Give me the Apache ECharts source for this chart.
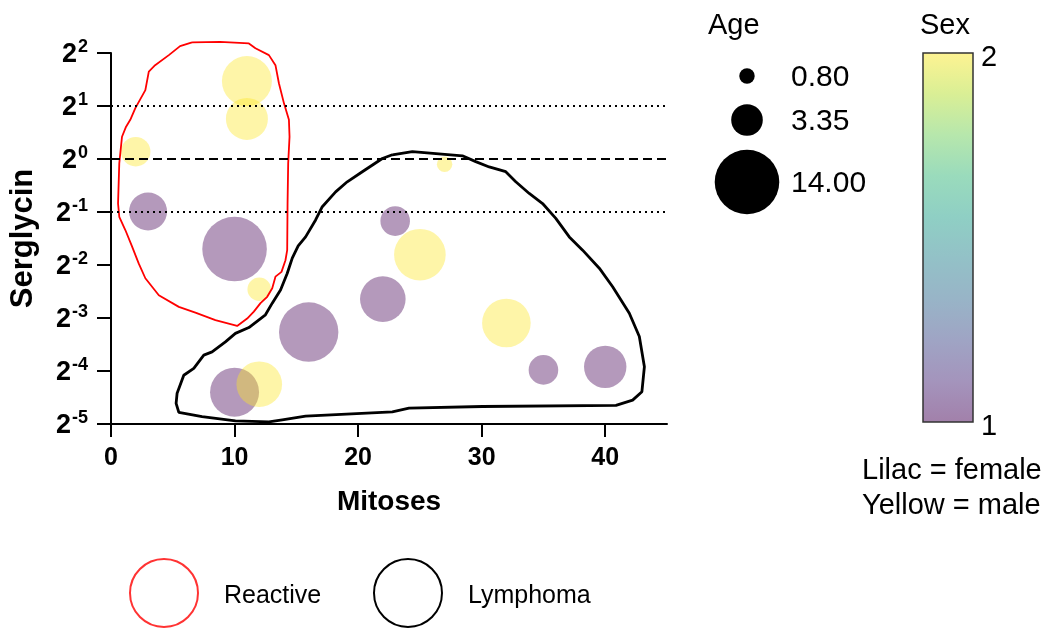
<!DOCTYPE html>
<html>
<head>
<meta charset="UTF-8">
<title>Serglycin vs Mitoses</title>
<script src="https://cdn.jsdelivr.net/npm/echarts@6/dist/echarts.min.js"></script>
<style>
  html, body { margin: 0; padding: 0; background: #fff; }
  #main { width: 1053px; height: 628px; }
</style>
</head>
<body>
<div id="main"></div>
<script>
// cases
var mitoses   = [11, 11, 2, 3, 10, 12, 10, 12, 27, 23, 25, 22, 16, 32, 35, 40];
var serglycin = [2.77, 1.69, 1.10, 0.503, 0.308, 0.182, 0.0474, 0.0526, 0.933, 0.444, 0.286, 0.160, 0.104, 0.117, 0.0634, 0.0660];
var age       = [8.39, 5.92, 2.90, 4.85, 14.0, 1.87, 8.06, 6.98, 0.80, 2.94, 8.94, 6.98, 11.84, 7.93, 2.94, 6.03];
var sex       = [2, 2, 2, 1, 1, 2, 1, 2, 2, 1, 2, 1, 1, 2, 1, 1];   // 1 = female, 2 = male

// hand drawn group outlines, [mitoses, log2(serglycin)]
var reactiveOutline = [[6.56,2.20],[8.83,2.21],[11.16,2.18],[11.69,2.09],[12.78,1.96],[13.31,1.77],[13.59,1.43],
  [14.0,1.05],[14.40,0.74],[14.45,0.42],[14.34,-0.08],[14.29,-0.84],[14.26,-1.72],[14.12,-1.91],[13.80,-2.13],
  [13.31,-2.22],[13.05,-2.44],[12.64,-2.60],[12.10,-2.72],[11.56,-2.88],[11.02,-3.01],[10.21,-3.15],[8.45,-3.04],
  [6.83,-2.90],[5.49,-2.79],[3.87,-2.57],[2.78,-2.25],[2.24,-1.97],[1.70,-1.65],[1.16,-1.34],[0.67,-1.09],
  [0.57,-0.84],[0.67,-0.08],[0.89,0.42],[1.22,0.61],[1.56,0.74],[1.97,0.96],[2.78,1.30],[3.06,1.65],[3.57,1.77],
  [4.68,1.96],[5.59,2.13]];
var lymphomaOutline = [[22.77,0.08],[24.39,0.14],[28.44,0.06],[29.52,-0.05],[30.61,-0.15],[31.95,-0.24],[32.76,-0.43],
  [33.85,-0.65],[34.93,-0.84],[36.0,-1.12],[37.09,-1.47],[38.17,-1.72],[39.52,-2.06],[40.6,-2.41],[41.95,-2.91],
  [42.76,-3.35],[43.17,-3.92],[42.97,-4.39],[42.22,-4.55],[40.87,-4.65],[30.06,-4.67],[24.12,-4.70],[22.77,-4.77],
  [15.75,-4.85],[13.86,-4.92],[12.78,-4.96],[10.07,-4.94],[7.37,-4.86],[5.49,-4.78],[5.27,-4.61],[5.35,-4.42],
  [5.89,-4.08],[6.70,-3.95],[7.51,-3.70],[8.18,-3.64],[9.26,-3.45],[10.07,-3.29],[11.16,-3.18],[12.50,-2.94],
  [13.05,-2.72],[13.72,-2.47],[14.26,-2.16],[14.67,-1.87],[15.15,-1.64],[15.75,-1.47],[16.56,-1.15],[17.10,-0.90],
  [18.18,-0.62],[19.12,-0.43],[20.34,-0.24],[21.96,0.01]];

var yTicks = [-5, -4, -3, -2, -1, 0, 1, 2];   // powers of two
var xTicks = [0, 10, 20, 30, 40];
var ageLegend = [0.80, 3.35, 14.00];

// viridis stops
var viridis = [[68,1,84],[72,40,120],[62,73,137],[49,104,142],[38,130,142],
  [31,158,137],[53,183,121],[110,206,88],[181,222,43],[253,231,37]];
var ALPHA = 0.5;

var FONT = '"Liberation Sans", Arial, sans-serif';

// bubble radius from age (area ~ age)
function radius(a) { return 8.63 * Math.sqrt(a); }

var points = [];
for (var i = 0; i < mitoses.length; i++) {
  points.push([mitoses[i], Math.log2(serglycin[i]), age[i], sex[i]]);
}
function closed(arr) { return arr.concat([arr[0]]); }

// colour bar: same colours seen over white paper
var barStops = viridis.map(function (c, k) {
  var mix = c.map(function (v) { return Math.round(v * ALPHA + 255 * (1 - ALPHA)); });
  return { offset: 1 - k / (viridis.length - 1), color: 'rgb(' + mix.join(',') + ')' };
});

var myChart = echarts.init(document.getElementById('main'));

var graphics = [
  { type: 'text', left: 708, top: 11, style: { text: 'Age', font: '29px ' + FONT, fill: '#000' } },
  { type: 'text', left: 920, top: 11, style: { text: 'Sex', font: '29px ' + FONT, fill: '#000' } },
  { type: 'rect', shape: { x: 923, y: 53, width: 50, height: 369 },
    style: { fill: new echarts.graphic.LinearGradient(0, 0, 0, 1, barStops), stroke: '#333', lineWidth: 1.5 } },
  { type: 'text', left: 981, top: 43, style: { text: '2', font: '29px ' + FONT, fill: '#000' } },
  { type: 'text', left: 981, top: 412, style: { text: '1', font: '29px ' + FONT, fill: '#000' } },
  { type: 'text', left: 862, top: 456, style: { text: 'Lilac = female', font: '29px ' + FONT, fill: '#000' } },
  { type: 'text', left: 862, top: 491, style: { text: 'Yellow = male', font: '29px ' + FONT, fill: '#000' } },
  { type: 'circle', shape: { cx: 164, cy: 593, r: 34 }, style: { fill: 'none', stroke: '#f33', lineWidth: 2 } },
  { type: 'text', left: 224, top: 584, style: { text: 'Reactive', font: '25px ' + FONT, fill: '#000' } },
  { type: 'circle', shape: { cx: 408, cy: 593, r: 34 }, style: { fill: 'none', stroke: '#000', lineWidth: 2 } },
  { type: 'text', left: 468, top: 584, style: { text: 'Lymphoma', font: '25px ' + FONT, fill: '#000' } }
];
var ageY = [76, 120, 182];
ageLegend.forEach(function (a, k) {
  graphics.push({ type: 'circle', shape: { cx: 747, cy: ageY[k], r: radius(a) }, style: { fill: '#000' } });
  graphics.push({ type: 'text', left: 791, top: ageY[k] - 13, style: { text: a.toFixed(2), font: '30px ' + FONT, fill: '#000' } });
});

var option = {
  animation: false,
  grid: { left: 109, right: 386, top: 53, bottom: 204 },
  xAxis: {
    type: 'value', min: 0, max: 45,
    name: 'Mitoses', nameLocation: 'middle', nameGap: 64,
    nameTextStyle: { fontFamily: FONT, fontSize: 28, fontWeight: 'bold', color: '#000' },
    axisLine: { onZero: false, lineStyle: { color: '#000', width: 2 } },
    axisTick: { length: 13, lineStyle: { color: '#000', width: 2 }, customValues: xTicks },
    axisLabel: { customValues: xTicks, margin: 22, fontFamily: FONT, fontSize: 25, fontWeight: 'bold', color: '#000' },
    splitLine: { show: false }
  },
  yAxis: {
    type: 'value', min: -5, max: 2, interval: 1,
    name: 'Serglycin', nameLocation: 'middle', nameGap: 72, nameRotate: 90,
    nameTextStyle: { fontFamily: FONT, fontSize: 31, fontWeight: 'bold', color: '#000' },
    axisLine: { onZero: false, lineStyle: { color: '#000', width: 2 } },
    axisTick: { length: 14, lineStyle: { color: '#000', width: 2 }, customValues: yTicks },
    axisLabel: {
      customValues: yTicks, margin: 23,
      formatter: function (v) { return '{b|2}{s|' + v + '}'; },
      rich: {
        b: { fontFamily: FONT, fontSize: 27, fontWeight: 'bold', color: '#000', lineHeight: 30, verticalAlign: 'bottom' },
        s: { fontFamily: FONT, fontSize: 18, fontWeight: 'bold', color: '#000', lineHeight: 18, verticalAlign: 'bottom', padding: [0, 0, 12, 1] }
      }
    },
    splitLine: { show: false }
  },
  visualMap: {
    show: false, type: 'continuous', min: 1, max: 2, dimension: 3, seriesIndex: 0,
    inRange: { color: viridis.map(function (c) { return 'rgba(' + c.join(',') + ',' + ALPHA + ')'; }) }
  },
  graphic: graphics,
  series: [
    {
      type: 'scatter', data: points, clip: false,
      symbolSize: function (v) { return 2 * radius(v[2]); },
      itemStyle: { borderWidth: 0 },
      emphasis: { disabled: true },
      markLine: {
        silent: true, symbol: 'none', label: { show: false },
        data: [
          { yAxis: 1, lineStyle: { color: '#000', width: 2, type: [2, 4] } },
          { yAxis: 0, lineStyle: { color: '#000', width: 2, type: [9, 5] } },
          { yAxis: -1, lineStyle: { color: '#000', width: 2, type: [2, 4] } }
        ]
      }
    },
    {
      type: 'line', name: 'Reactive', data: closed(reactiveOutline), clip: false,
      symbol: 'none', smooth: false, silent: true,
      lineStyle: { color: '#f00', width: 1.8 }
    },
    {
      type: 'line', name: 'Lymphoma', data: closed(lymphomaOutline), clip: false,
      symbol: 'none', smooth: false, silent: true,
      lineStyle: { color: '#000', width: 2.8 }
    }
  ]
};
myChart.setOption(option);
</script>
</body>
</html>
